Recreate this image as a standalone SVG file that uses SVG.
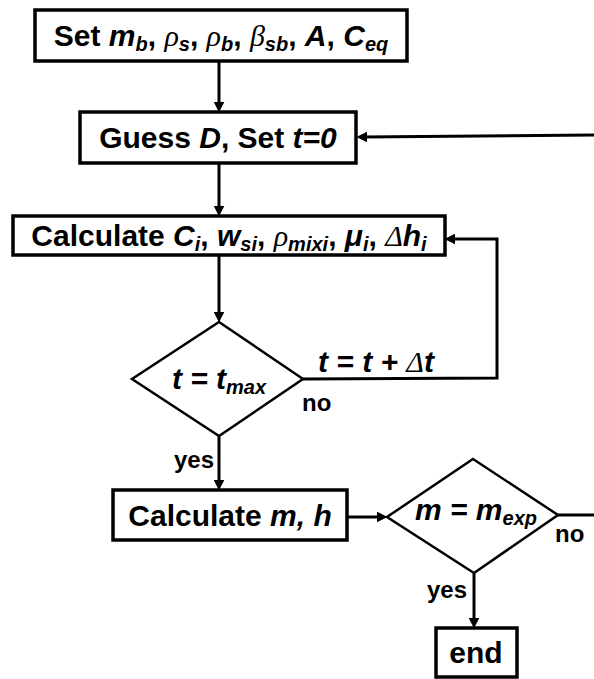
<svg xmlns="http://www.w3.org/2000/svg" width="594" height="679" viewBox="0 0 594 679">
  <style>
    .box { fill: #fff; stroke: #000; stroke-width: 3.5; }
    .dia { fill: #fff; stroke: #000; stroke-width: 2.5; }
    .wire { fill: none; stroke: #000; stroke-width: 3; }
    .t { font-family: "Liberation Sans", Arial, sans-serif; font-weight: bold; font-size: 30px; fill: #000; }
    .lbl { font-family: "Liberation Sans", Arial, sans-serif; font-weight: bold; font-size: 24px; fill: #000; }
    .v { font-style: italic; }
    .g { font-family: "Liberation Serif", "Times New Roman", serif; font-style: italic; font-weight: normal; }
    .s { font-size: 20px; font-style: italic; }
  </style>
  <defs>
    <marker id="arrow" viewBox="0 0 10 10" refX="4" refY="5" markerWidth="11" markerHeight="11" markerUnits="userSpaceOnUse" orient="auto">
      <path d="M0,0 L10,5 L0,10 z" fill="#000"/>
    </marker>
  </defs>

  <!-- connectors -->
  <g id="connectors">
    <line class="wire" x1="219" y1="61" x2="219" y2="106" marker-end="url(#arrow)"/>
    <line class="wire" x1="219" y1="163" x2="219" y2="210" marker-end="url(#arrow)"/>
    <line class="wire" x1="219" y1="255" x2="219" y2="316" marker-end="url(#arrow)"/>
    <polyline class="wire" points="303,379 497,378 497,239 451,239" marker-end="url(#arrow)"/>
    <line class="wire" x1="219" y1="436" x2="219" y2="484" marker-end="url(#arrow)"/>
    <line class="wire" x1="347" y1="517" x2="381" y2="517" marker-end="url(#arrow)"/>
    <line class="wire" x1="558" y1="515" x2="594" y2="515"/>
    <line class="wire" x1="474" y1="573" x2="474" y2="622" marker-end="url(#arrow)"/>
    <line class="wire" x1="594" y1="135" x2="363" y2="137" marker-end="url(#arrow)"/>
  </g>

  <!-- start: set parameters -->
  <g id="set-params">
    <rect class="box" x="35" y="10" width="372" height="51"/>
    <text class="t" x="221" y="46" text-anchor="middle">Set <tspan class="v">m</tspan><tspan class="s" dy="5">b</tspan><tspan dy="-5">, </tspan><tspan class="g">ρ</tspan><tspan class="s" dy="5">s</tspan><tspan dy="-5">, </tspan><tspan class="g">ρ</tspan><tspan class="s" dy="5">b</tspan><tspan dy="-5">, </tspan><tspan class="g">β</tspan><tspan class="s" dy="5">sb</tspan><tspan dy="-5">, </tspan><tspan class="v">A</tspan>, <tspan class="v">C</tspan><tspan class="s" dy="5">eq</tspan></text>
  </g>

  <!-- guess diffusion coefficient -->
  <g id="guess-d">
    <rect class="box" x="80" y="112" width="276" height="51"/>
    <text class="t" x="218" y="148" text-anchor="middle">Guess <tspan class="v">D</tspan>, Set <tspan class="v">t=0</tspan></text>
  </g>

  <!-- per-layer calculation -->
  <g id="calc-layer">
    <rect class="box" x="13" y="216" width="432" height="39"/>
    <text class="t" x="229" y="246" text-anchor="middle">Calculate <tspan class="v">C</tspan><tspan class="s" dy="5">i</tspan><tspan dy="-5">, </tspan><tspan class="v">w</tspan><tspan class="s" dy="5">si</tspan><tspan dy="-5">, </tspan><tspan class="g">ρ</tspan><tspan class="s" dy="5">mixi</tspan><tspan dy="-5">, </tspan><tspan class="v">μ</tspan><tspan class="s" dy="5">i</tspan><tspan dy="-5">, </tspan><tspan class="g">Δ</tspan><tspan class="v">h</tspan><tspan class="s" dy="5">i</tspan></text>
  </g>

  <!-- time check -->
  <g id="time-check">
    <polygon class="dia" points="219,322 303,379 219,436 132,379"/>
    <text class="t" x="219" y="389" text-anchor="middle"><tspan class="v">t = t</tspan><tspan class="s" dy="5">max</tspan></text>
    <text class="t v" x="318" y="372">t = t + <tspan class="g">Δ</tspan>t</text>
    <text class="lbl" x="302" y="411">no</text>
    <text class="lbl" x="214" y="468" text-anchor="end">yes</text>
  </g>

  <!-- mass and height -->
  <g id="calc-mh">
    <rect class="box" x="113" y="490" width="234" height="50"/>
    <text class="t" x="230" y="526" text-anchor="middle">Calculate <tspan class="v">m, h</tspan></text>
  </g>

  <!-- mass check -->
  <g id="mass-check">
    <polygon class="dia" points="473,459 558,515 474,573 387,517"/>
    <text class="t" x="415" y="520"><tspan class="v">m = m</tspan><tspan class="s" dy="5">exp</tspan></text>
    <text class="lbl" x="555" y="542">no</text>
    <text class="lbl" x="467" y="598" text-anchor="end">yes</text>
  </g>

  <!-- end -->
  <g id="end">
    <rect class="box" x="436" y="628" width="81" height="49"/>
    <text class="t" x="476" y="663" text-anchor="middle">end</text>
  </g>
</svg>
